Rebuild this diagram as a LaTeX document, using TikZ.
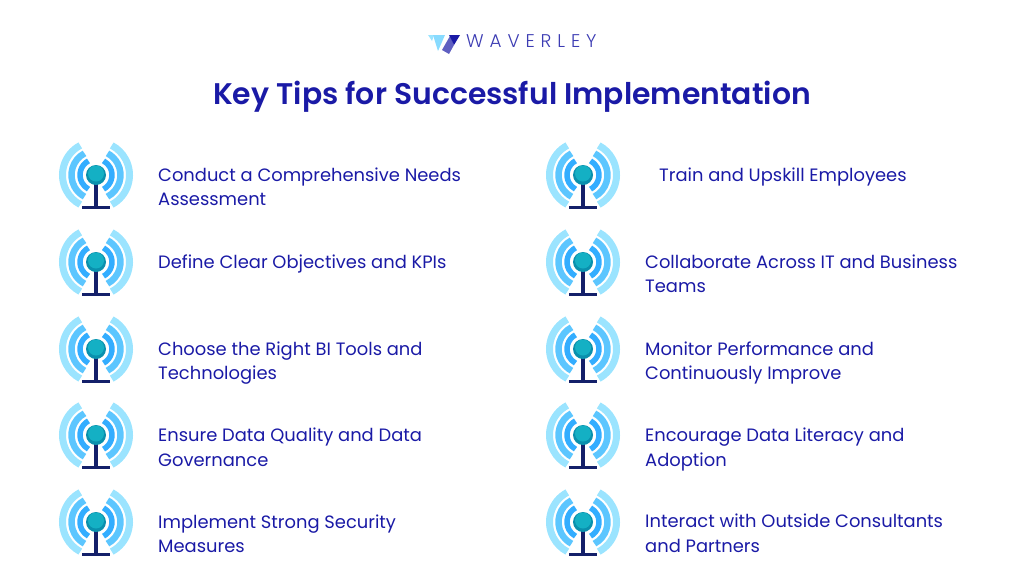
\documentclass[tikz,border=0pt]{standalone}
\usepackage{fontspec}
\setmainfont{Poppins}
\newfontfamily\logofont[LetterSpace=32]{Poppins Light}
\newfontfamily\titlefont{Poppins SemiBold}
\definecolor{tipblue}{HTML}{1A1AA6}
\definecolor{waveout}{HTML}{9BE4FF}
\definecolor{wavemid}{HTML}{5CC6FF}
\definecolor{wavein}{HTML}{33ADFF}
\definecolor{ballcol}{HTML}{0A90AD}
\definecolor{balltop}{HTML}{14B0C4}
\definecolor{standcol}{HTML}{14206A}
\begin{document}
\begin{tikzpicture}[
    x=1pt,
    y=-1pt,
    tiptext/.style={
        anchor=north west,
        align=left,
        inner sep=0pt,
        text=tipblue,
        font=\fontsize{17.9}{24.6}\selectfont,
    },
    antenna/.pic={
        \foreach \rad/\wid/\col in {33.5/7/waveout,24.5/6.5/wavemid,16/5.5/wavein} {
            \draw[\col,line width=\wid pt] (-62:\rad pt) arc[start angle=-62,end angle=62,radius=\rad pt];
            \draw[\col,line width=\wid pt] (118:\rad pt) arc[start angle=118,end angle=242,radius=\rad pt];
        }
    },
]

    \useasboundingbox (0,0) rectangle (1024,576);

    % logo
    \fill[waveout] (428,35) -- (434,35) -- (432,41) -- cycle;
    \fill[waveout!70!wavemid] (433,35) -- (445,35) -- (438,51) -- cycle;
    \fill[tipblue!70!white] (442,50) -- (450,36) -- (454,45) -- (449,54) -- cycle;
    \fill[tipblue] (449,35) -- (460,35) -- (454,45) -- cycle;
    \node[anchor=base west,inner sep=0pt,text=tipblue!85!white,font=\logofont\fontsize{18.4}{20}\selectfont] (logo) at (466,47) {WAVERLEY};

    \node[inner sep=0pt,text=tipblue,font=\titlefont\fontsize{29.85}{34}\selectfont] (title) at (512,97) {Key Tips for Successful Implementation};

    % icons
    \foreach \xx in {96,583} {
        \foreach \yy in {175,262,349,435,522} {
            \pic at (\xx,\yy) {antenna};
            \fill[standcol] (\xx-2,\yy) rectangle (\xx+2,\yy+32);
            \fill[standcol] (\xx-14,\yy+31) rectangle (\xx+14,\yy+33.5);
            \fill[ballcol] (\xx,\yy) circle[radius=10];
            \fill[balltop] (\xx,\yy-1.5) circle[radius=8];
        }
    }

    \node[tiptext] (tipa) at (158,167.5) {Conduct a Comprehensive Needs\\Assessment};
    \node[tiptext] (tipb) at (158,254.5) {Define Clear Objectives and KPIs};
    \node[tiptext] (tipc) at (158,341.5) {Choose the Right BI Tools and\\Technologies};
    \node[tiptext] (tipd) at (158,428) {Ensure Data Quality and Data\\Governance};
    \node[tiptext] (tipe) at (158,514.5) {Implement Strong Security\\Measures};
    \node[tiptext] (tipf) at (659,167.5) {Train and Upskill Employees};
    \node[tiptext] (tipg) at (645,254.5) {Collaborate Across IT and Business\\Teams};
    \node[tiptext] (tiph) at (645,341.5) {Monitor Performance and\\Continuously Improve};
    \node[tiptext] (tipi) at (645,428) {Encourage Data Literacy and\\Adoption};
    \node[tiptext] (tipj) at (645,514) {Interact with Outside Consultants\\and Partners};

\end{tikzpicture}
\end{document}
